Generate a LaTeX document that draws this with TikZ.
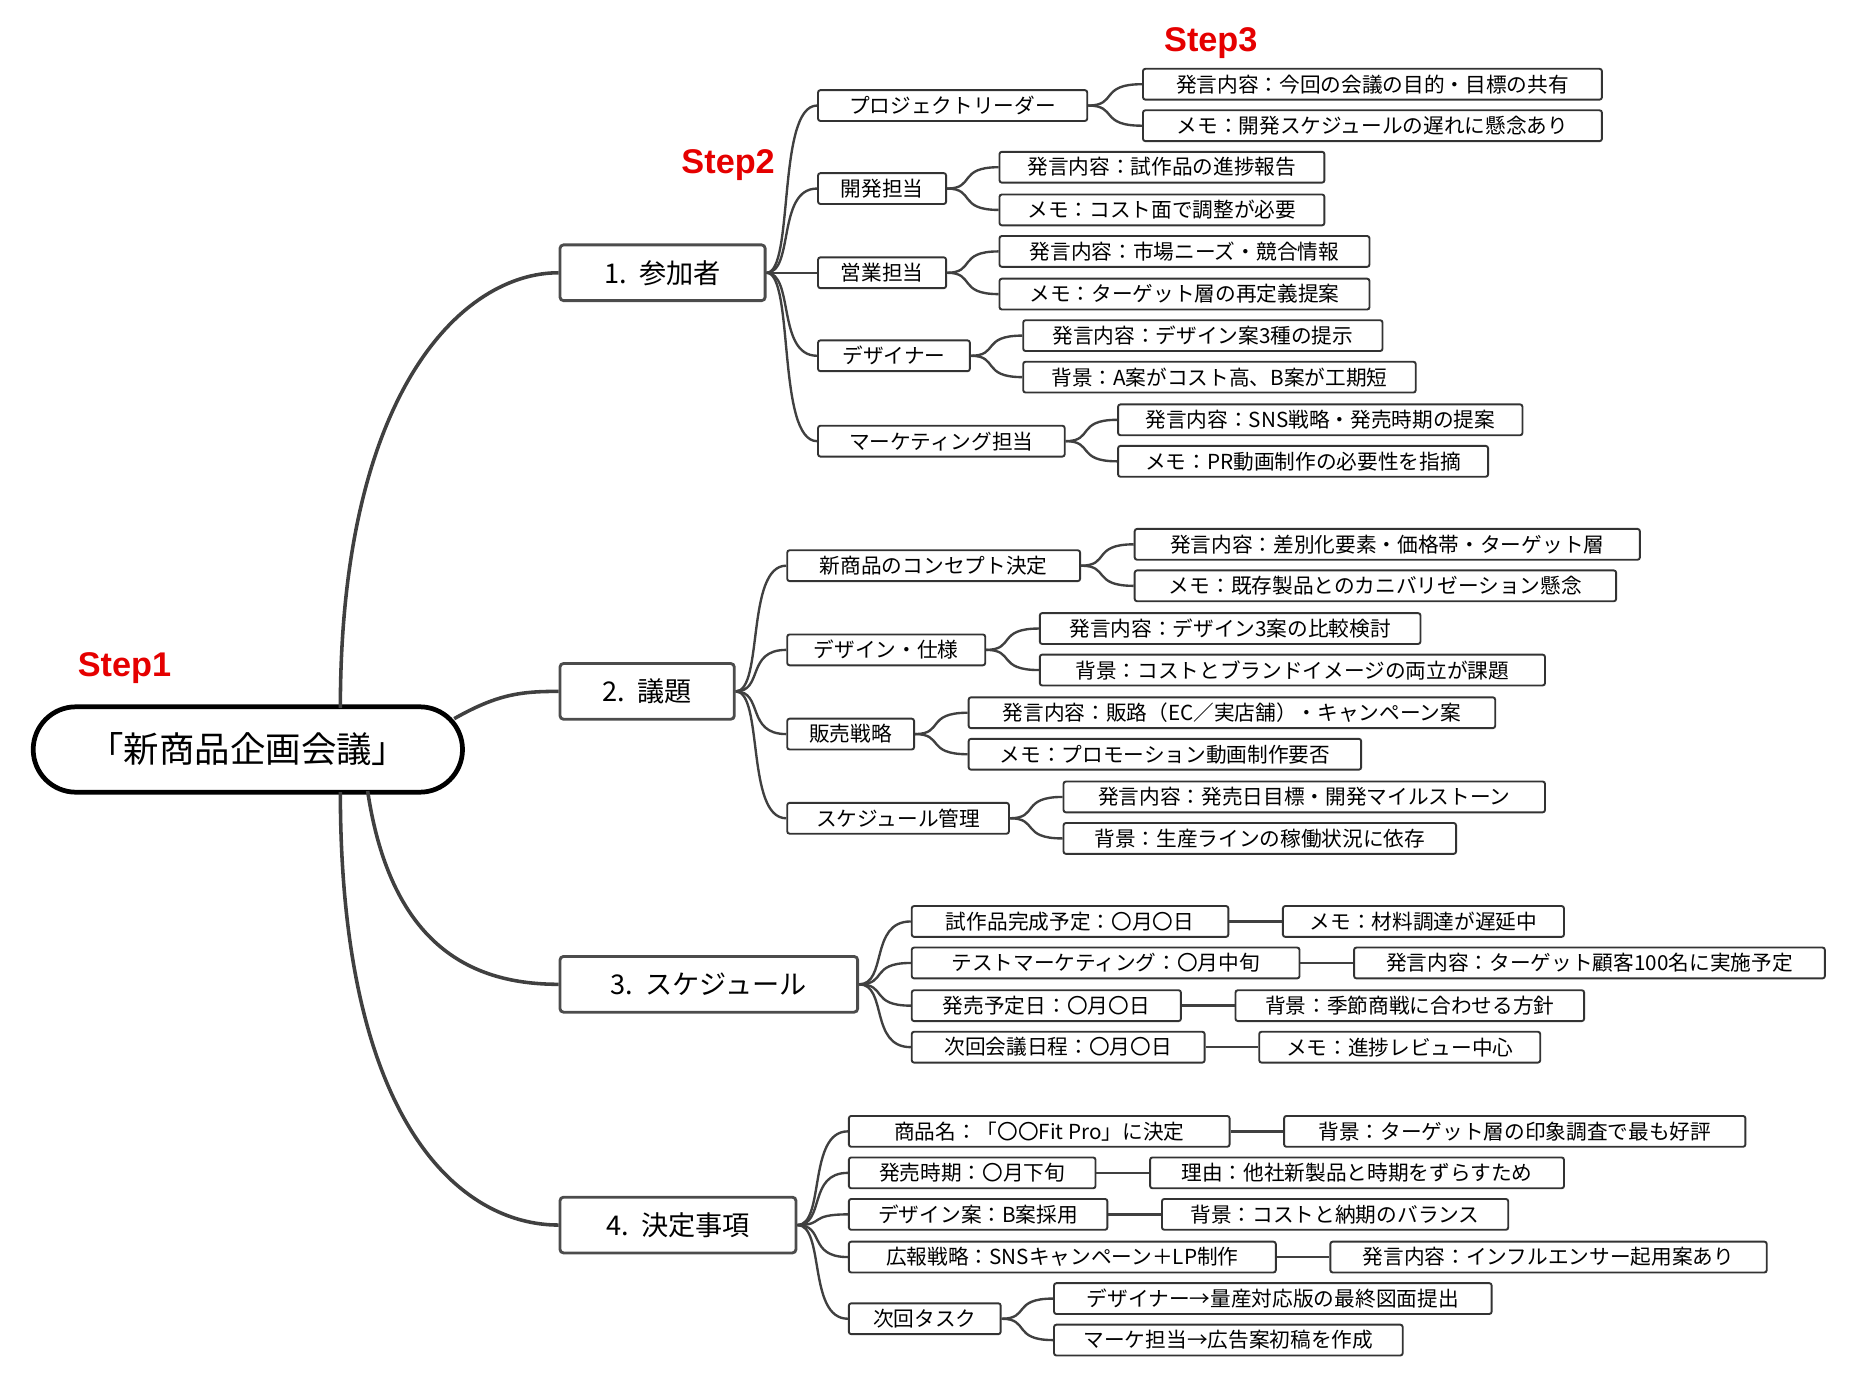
\documentclass[tikz,border=0pt]{standalone}
\usepackage{fontspec}
\setmainfont{Noto Sans CJK JP}
\newfontfamily\stepf{Liberation Sans}
\usetikzlibrary{calc}
\begin{document}
\begin{tikzpicture}[x=1bp,y=-1bp,
 ln/.style={draw=black!75,line width=2bp},
 rl/.style={draw=black!75,line width=3bp},
 l2/.style={draw=black!80,line width=1.6bp,rounded corners=2bp,minimum height=26bp,inner sep=0pt,anchor=west,font=\fontsize{17.5}{18}\selectfont},
 l1/.style={draw=black!70,line width=2.4bp,rounded corners=3bp,minimum height=47bp,inner sep=0pt,anchor=west,font=\fontsize{23}{26}\selectfont},
 st/.style={text=red!90!black,font=\stepf\bfseries\fontsize{29}{32}\selectfont}]
\useasboundingbox (0,0) rectangle (1560,1172);
\newcommand\bx[5]{\node[l2,minimum width=#4bp] (#1) at (#2,#3) {#5};}
\newcommand\bl[5]{\node[l1,minimum width=#4bp] (#1) at (#2,#3) {#5};}
\newcommand\con[2]{\draw[ln] let \p1=(#1.east), \p2=(#2.west) in (\p1) .. controls ({\x1+0.55*(\x2-\x1)},\y1) and ({\x1+0.2*(\x2-\x1)},\y2) .. (\p2);}
\newcommand\hc[2]{\draw[ln] (#1.east) -- (#2.west);}
% root
\node[draw=black,line width=4bp,rounded corners=36bp,minimum width=362bp,minimum height=72bp,font=\fontsize{30}{32}\selectfont] (root) at (209,632) {「新商品企画会議」};
\node[st] (s1) at (105,563) {Step1};
\node[st] (s2) at (614,139) {Step2};
\node[st] (s3) at (1021,36) {Step3};
% level 1
\bl{a}{471}{230}{173}{1.\ \ 参加者}
\bl{b}{471}{583}{147}{2.\ \ 議題}
\bl{c}{471}{830}{251}{3.\ \ スケジュール}
\bl{d}{471}{1033}{199}{4.\ \ 決定事項}
\coordinate (ra) at (287,597);
\coordinate (rb) at (383,606);
\coordinate (rc) at (310,667);
\coordinate (rd) at (287,668);
\draw[rl] (ra) .. controls (287,330) and (390,230) .. (a.west);
\draw[rl] (rb) .. controls (420,585) and (440,583) .. (b.west);
\draw[rl] (rc) .. controls (330,800) and (400,830) .. (c.west);
\draw[rl] (rd) .. controls (287,950) and (390,1033) .. (d.west);
% group 1
\bx{a1}{689}{89}{227}{プロジェクトリーダー}
\bx{a2}{689}{159}{108}{開発担当}
\bx{a3}{689}{230}{108}{営業担当}
\bx{a4}{689}{300}{128}{デザイナー}
\bx{a5}{689}{372}{208}{マーケティング担当}
\foreach \k in {a1,a2,a3,a4,a5}{\con{a}{\k}}
\bx{a11}{963}{71}{387}{発言内容：今回の会議の目的・目標の共有}
\bx{a12}{963}{106}{387}{メモ：開発スケジュールの遅れに懸念あり}
\bx{a21}{842}{141}{274}{発言内容：試作品の進捗報告}
\bx{a22}{842}{177}{274}{メモ：コスト面で調整が必要}
\bx{a31}{842}{212}{312}{発言内容：市場ニーズ・競合情報}
\bx{a32}{842}{248}{312}{メモ：ターゲット層の再定義提案}
\bx{a41}{862}{283}{303}{発言内容：デザイン案3種の提示}
\bx{a42}{862}{318}{331}{背景：A案がコスト高、B案が工期短}
\bx{a51}{942}{354}{341}{発言内容：SNS戦略・発売時期の提案}
\bx{a52}{942}{389}{312}{メモ：PR動画制作の必要性を指摘}
\con{a1}{a11}\con{a1}{a12}\con{a2}{a21}\con{a2}{a22}\con{a3}{a31}\con{a3}{a32}
\con{a4}{a41}\con{a4}{a42}\con{a5}{a51}\con{a5}{a52}
% group 2
\bx{b1}{663}{477}{247}{新商品のコンセプト決定}
\bx{b2}{663}{548}{167}{デザイン・仕様}
\bx{b3}{663}{619}{107}{販売戦略}
\bx{b4}{663}{690}{187}{スケジュール管理}
\foreach \k in {b1,b2,b3,b4}{\con{b}{\k}}
\bx{b11}{956}{459}{426}{発言内容：差別化要素・価格帯・ターゲット層}
\bx{b12}{956}{494}{406}{メモ：既存製品とのカニバリゼーション懸念}
\bx{b21}{876}{530}{321}{発言内容：デザイン3案の比較検討}
\bx{b22}{876}{565}{426}{背景：コストとブランドイメージの両立が課題}
\bx{b31}{816}{601}{444}{発言内容：販路（EC／実店舗）・キャンペーン案}
\bx{b32}{816}{636}{331}{メモ：プロモーション動画制作要否}
\bx{b41}{896}{672}{406}{発言内容：発売日目標・開発マイルストーン}
\bx{b42}{896}{707}{331}{背景：生産ラインの稼働状況に依存}
\con{b1}{b11}\con{b1}{b12}\con{b2}{b21}\con{b2}{b22}\con{b3}{b31}\con{b3}{b32}\con{b4}{b41}\con{b4}{b42}
% group 3
\bx{c1}{768}{777}{267}{試作品完成予定：〇月〇日}
\bx{c2}{768}{812}{327}{テストマーケティング：〇月中旬}
\bx{c3}{768}{848}{227}{発売予定日：〇月〇日}
\bx{c4}{768}{883}{247}{次回会議日程：〇月〇日}
\foreach \k in {c1,c2,c3,c4}{\con{c}{\k}}
\bx{c11}{1081}{777}{237}{メモ：材料調達が遅延中}
\bx{c21}{1141}{812}{397}{発言内容：ターゲット顧客100名に実施予定}
\bx{c31}{1041}{848}{294}{背景：季節商戦に合わせる方針}
\bx{c41}{1061}{883}{237}{メモ：進捗レビュー中心}
\hc{c1}{c11}\hc{c2}{c21}\hc{c3}{c31}\hc{c4}{c41}
% group 4
\bx{d1}{715}{954}{321}{商品名：「〇〇Fit Pro」に決定}
\bx{d2}{715}{989}{208}{発売時期：〇月下旬}
\bx{d3}{715}{1024}{218}{デザイン案：B案採用}
\bx{d4}{715}{1060}{360}{広報戦略：SNSキャンペーン＋LP制作}
\bx{d5}{715}{1112}{128}{次回タスク}
\foreach \k in {d1,d2,d3,d4,d5}{\con{d}{\k}}
\bx{d11}{1082}{954}{389}{背景：ターゲット層の印象調査で最も好評}
\bx{d21}{969}{989}{349}{理由：他社新製品と時期をずらすため}
\bx{d31}{979}{1024}{292}{背景：コストと納期のバランス}
\bx{d41}{1121}{1060}{368}{発言内容：インフルエンサー起用案あり}
\bx{d51}{888}{1095}{369}{デザイナー→量産対応版の最終図面提出}
\bx{d52}{888}{1130}{294}{マーケ担当→広告案初稿を作成}
\hc{d1}{d11}\hc{d2}{d21}\hc{d3}{d31}\hc{d4}{d41}\con{d5}{d51}\con{d5}{d52}
\end{tikzpicture}
\end{document}
